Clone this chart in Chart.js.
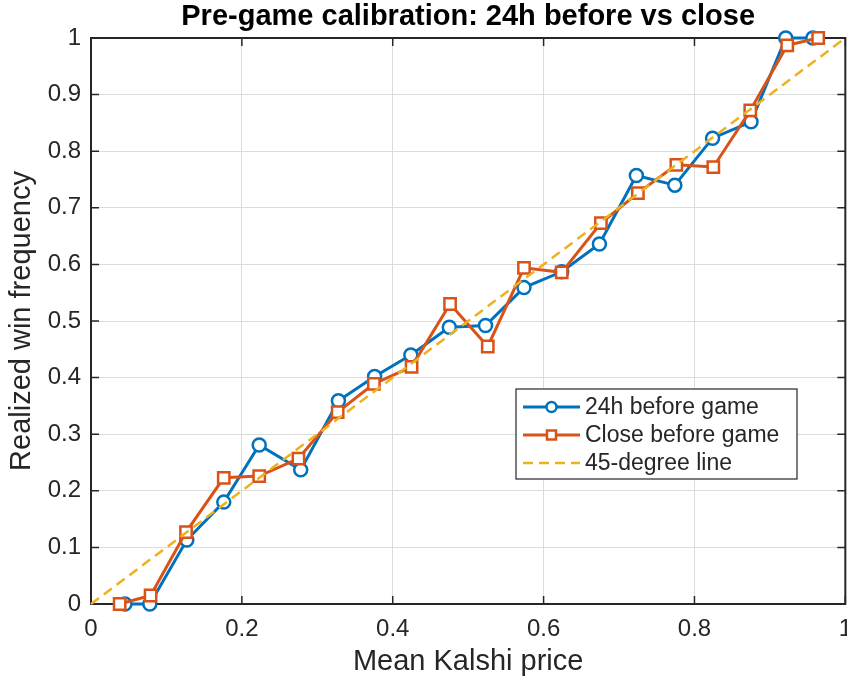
<!DOCTYPE html>
<html>
<head>
<meta charset="utf-8">
<title>Pre-game calibration</title>
<script src="https://cdn.jsdelivr.net/npm/chart.js@4.4.1/dist/chart.umd.min.js"></script>
<style>
    html, body { margin: 0; padding: 0; background: #fff; overflow: hidden; width: 847px; height: 682px; }
    canvas { display: block; }
</style>
</head>
<body>
<!-- canvas is a bit wider than the window so the last x label gets cut like in the original -->
<canvas id="myChart" width="863" height="682"></canvas>
<script>
/*----------- data ------------ */
const xTicks = [0, 0.2, 0.4, 0.6, 0.8, 1];
const yTicks = [0, 0.1, 0.2, 0.3, 0.4, 0.5, 0.6, 0.7, 0.8, 0.9, 1];

const price24h = [0.045, 0.078, 0.127, 0.176, 0.223, 0.278, 0.328, 0.376, 0.424, 0.475,
    0.523, 0.574, 0.624, 0.674, 0.723, 0.774, 0.824, 0.875, 0.921, 0.957];
const freq24h = [0, 0, 0.113, 0.180, 0.281, 0.237, 0.359, 0.402, 0.440, 0.489,
    0.492, 0.559, 0.587, 0.636, 0.757, 0.740, 0.823, 0.852, 1.0, 1.0];

const priceClose = [0.038, 0.079, 0.126, 0.176, 0.223, 0.275, 0.327, 0.375, 0.425, 0.476,
    0.526, 0.574, 0.624, 0.676, 0.725, 0.776, 0.825, 0.874, 0.923, 0.964];
const freqClose = [0, 0.015, 0.127, 0.223, 0.226, 0.257, 0.339, 0.389, 0.419, 0.530,
    0.455, 0.594, 0.586, 0.673, 0.726, 0.776, 0.772, 0.872, 0.987, 1.0];

const diagX = [0, 1];
const diagY = [0, 1];

const toPoints = (xs, ys) => xs.map((x, i) => ({ x: x, y: ys[i] }));

const FONT = "'Liberation Sans', Arial, Helvetica, sans-serif";
const INK = '#262626';

/*----------- axes box with inward ticks ------------ */
const axesBox = {
    id: 'axesBox',
    beforeDatasetsDraw(chart) {
        const ctx = chart.ctx;
        const a = chart.chartArea;
        const xs = chart.scales.x, ys = chart.scales.y;
        const len = 8;
        ctx.save();
        ctx.strokeStyle = INK;
        ctx.lineWidth = 1.5;
        ctx.beginPath();
        xTicks.forEach(v => {
            const px = xs.getPixelForValue(v);
            ctx.moveTo(px, a.bottom); ctx.lineTo(px, a.bottom - len);
            ctx.moveTo(px, a.top); ctx.lineTo(px, a.top + len);
        });
        yTicks.forEach(v => {
            const py = ys.getPixelForValue(v);
            ctx.moveTo(a.left, py); ctx.lineTo(a.left + len, py);
            ctx.moveTo(a.right, py); ctx.lineTo(a.right - len, py);
        });
        ctx.stroke();
        ctx.lineWidth = 2;
        ctx.strokeRect(a.left, a.top, a.right - a.left, a.bottom - a.top);
        ctx.restore();
    }
};

/*----------- legend inside the axes ------------ */
const insetLegend = {
    id: 'insetLegend',
    afterDraw(chart) {
        const ctx = chart.ctx;
        const a = chart.chartArea;
        const bx = a.left + 425, by = a.top + 351, bw = 281, bh = 90;
        ctx.save();
        ctx.fillStyle = '#fff';
        ctx.fillRect(bx, by, bw, bh);
        ctx.strokeStyle = INK;
        ctx.lineWidth = 1.2;
        ctx.strokeRect(bx, by, bw, bh);

        chart.data.datasets.forEach((ds, i) => {
            const cy = by + 18 + i * 28;
            const x0 = bx + 7, x1 = bx + 64, xm = (x0 + x1) / 2;
            ctx.strokeStyle = ds.borderColor;
            ctx.lineWidth = ds.borderWidth;
            ctx.setLineDash(ds.borderDash || []);
            ctx.beginPath();
            ctx.moveTo(x0, cy); ctx.lineTo(x1, cy);
            ctx.stroke();
            ctx.setLineDash([]);
            if (ds.pointRadius > 0) {
                ctx.fillStyle = '#fff';
                ctx.lineWidth = 2.5;
                ctx.beginPath();
                if (ds.pointStyle === 'rect') {
                    ctx.rect(xm - 4.5, cy - 4.5, 9, 9);
                } else {
                    ctx.arc(xm, cy, 5, 0, Math.PI * 2);
                }
                ctx.fill();
                ctx.stroke();
            }
            ctx.fillStyle = INK;
            ctx.font = '23px ' + FONT;
            ctx.textBaseline = 'middle';
            ctx.textAlign = 'left';
            ctx.fillText(ds.label, bx + 69, cy + 1);
        });
        ctx.restore();
    }
};

/*----------- chart ------------ */
const data = {
    datasets: [{
        label: '24h before game',
        data: toPoints(price24h, freq24h),
        borderColor: '#0072BD',
        backgroundColor: '#0072BD',
        borderWidth: 3,
        pointStyle: 'circle',
        pointRadius: 6.5,
        pointBorderWidth: 2.5,
        pointBackgroundColor: '#fff',
        order: 2,
        clip: false
    }, {
        label: 'Close before game',
        data: toPoints(priceClose, freqClose),
        borderColor: '#D95319',
        backgroundColor: '#D95319',
        borderWidth: 3,
        pointStyle: 'rect',
        pointRadius: 8,
        pointBorderWidth: 2.5,
        pointBackgroundColor: '#fff',
        order: 1,
        clip: false
    }, {
        label: '45-degree line',
        data: toPoints(diagX, diagY),
        borderColor: '#EDB120',
        backgroundColor: '#EDB120',
        borderWidth: 2.5,
        borderDash: [10, 6],
        pointRadius: 0,
        order: 0,
        clip: false
    }]
};

const tickFormat = v => String(+v.toFixed(1));

const config = {
    type: 'line',
    data: data,
    plugins: [axesBox, insetLegend],
    options: {
        responsive: false,
        animation: false,
        devicePixelRatio: 1,
        layout: { padding: 0 },
        plugins: {
            legend: { display: false },
            tooltip: { enabled: false },
            title: {
                display: true,
                fullSize: false,
                text: 'Pre-game calibration: 24h before vs close',
                color: '#000',
                font: { family: FONT, size: 29, weight: 'bold' },
                padding: { top: 0, bottom: 3.2 }
            }
        },
        scales: {
            x: {
                type: 'linear',
                min: 0,
                max: 1,
                afterBuildTicks: s => { s.ticks = xTicks.map(v => ({ value: v })); },
                afterFit: s => { s.height = 78; },
                grid: { color: '#dcdcdc', lineWidth: 1, drawTicks: false },
                border: { display: false },
                ticks: {
                    color: INK,
                    font: { family: FONT, size: 24 },
                    padding: 11,
                    maxRotation: 0,
                    autoSkip: false,
                    callback: tickFormat
                },
                title: {
                    display: true,
                    text: 'Mean Kalshi price',
                    color: INK,
                    font: { family: FONT, size: 29 },
                    padding: { top: 0, bottom: 2.5 }
                }
            },
            y: {
                type: 'linear',
                min: 0,
                max: 1,
                afterBuildTicks: s => { s.ticks = yTicks.map(v => ({ value: v })); },
                afterFit: s => { s.width = 91; },
                grid: { color: '#dcdcdc', lineWidth: 1, drawTicks: false },
                border: { display: false },
                ticks: {
                    color: INK,
                    font: { family: FONT, size: 24 },
                    padding: 10,
                    autoSkip: false,
                    callback: tickFormat
                },
                title: {
                    display: true,
                    text: 'Realized win frequency',
                    color: INK,
                    font: { family: FONT, size: 29 },
                    padding: { top: 5, bottom: 0 }
                }
            }
        }
    }
};

const myChart = new Chart(
    document.getElementById('myChart'),
    config
);
</script>
</body>
</html>
